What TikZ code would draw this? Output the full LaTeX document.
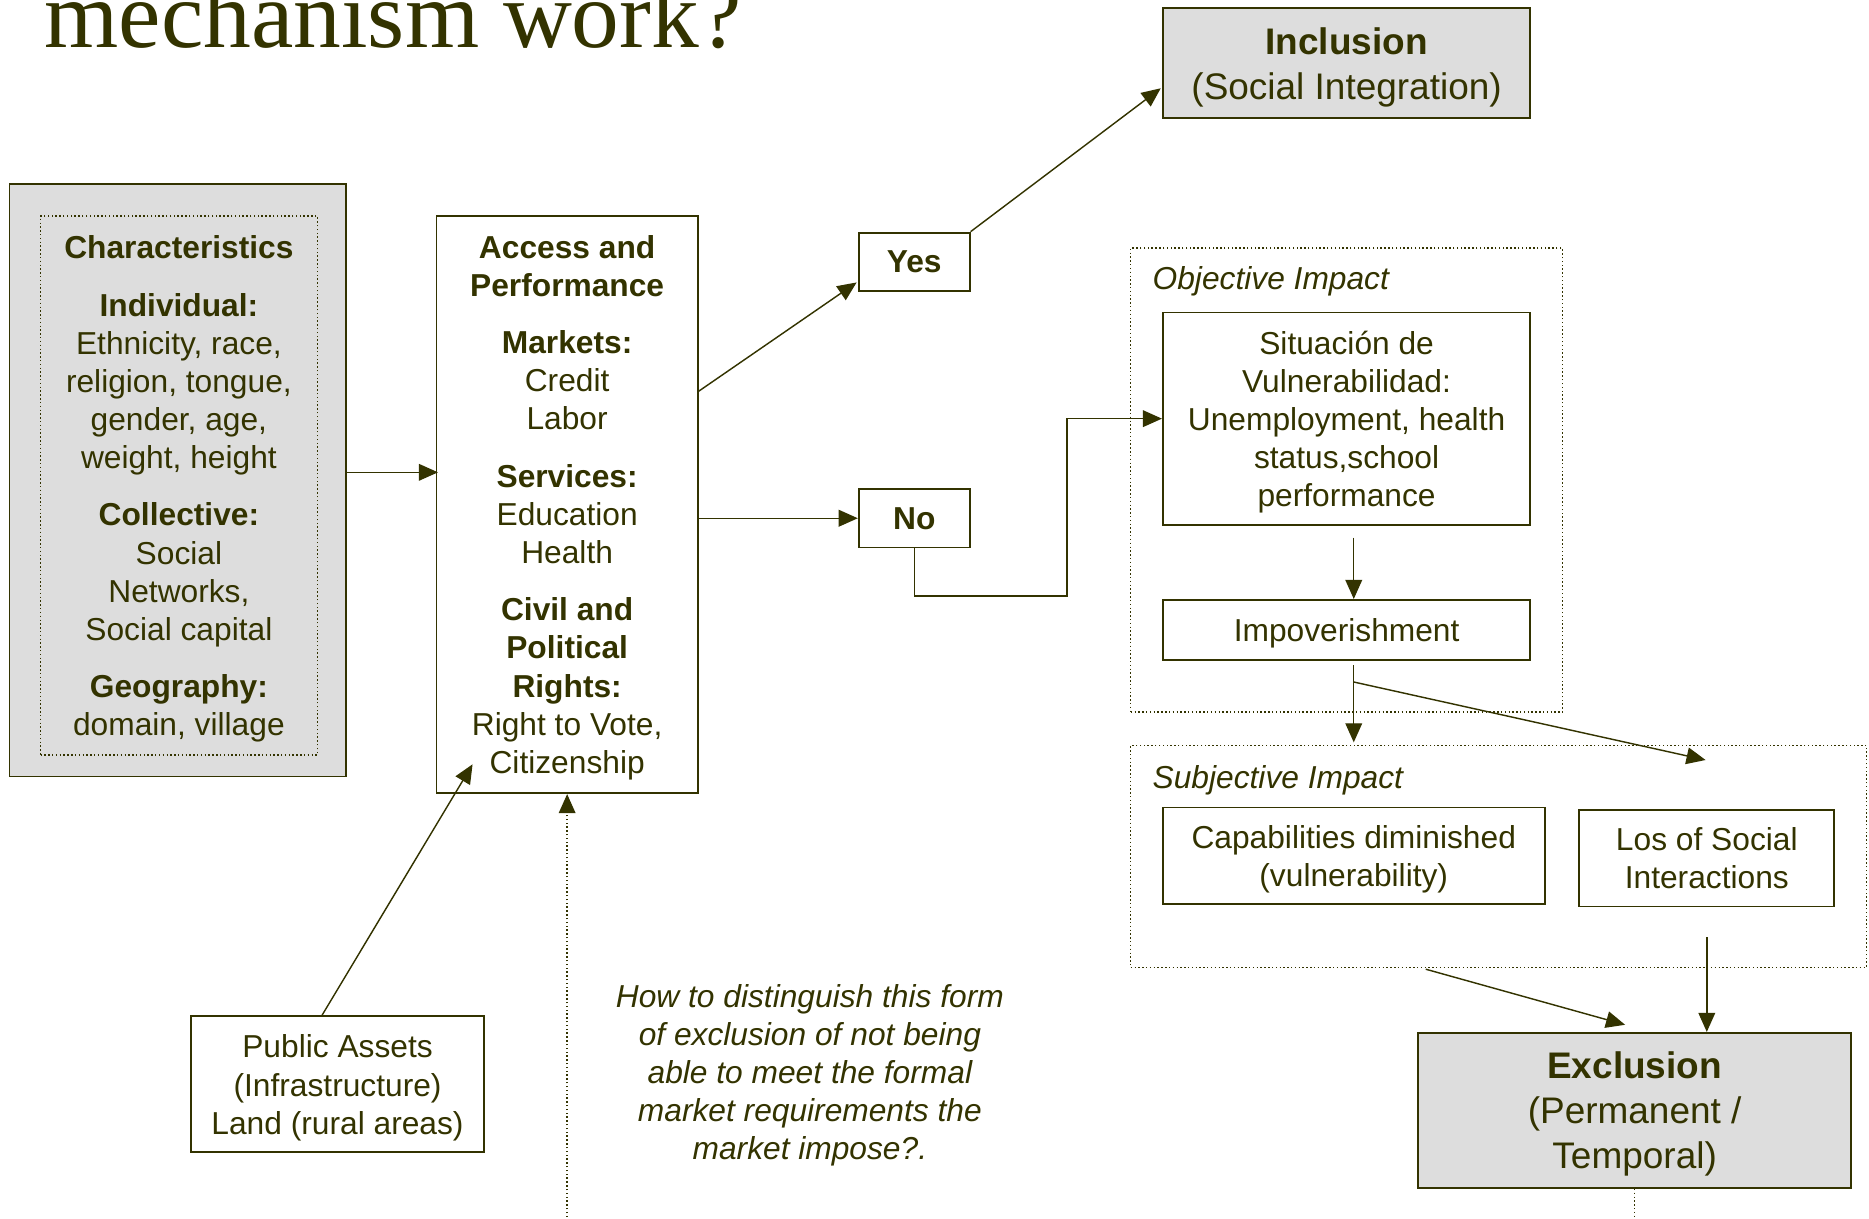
\documentclass[tikz,border=0pt]{standalone}
\usepackage{fontspec}
\setmainfont{Liberation Sans}
\newfontfamily\titlefont{Liberation Serif}
\usetikzlibrary{arrows.meta,calc}
\definecolor{ink}{HTML}{333300}
\definecolor{boxgray}{HTML}{DDDDDD}
\newcommand{\headroom}[1]{\rule{0pt}{#1}}
\tikzset{
  txt/.style={font=\fontsize{13.3}{16}\selectfont},
  big/.style={font=\fontsize{15.5}{19}\selectfont},
  note/.style={font=\fontsize{13.3}{16}\selectfont\itshape},
  box/.style={draw=ink, line width=0.8pt, text=ink, align=center, inner sep=0pt},
  graybox/.style={box, fill=boxgray},
  dotbox/.style={draw=ink, line width=0.6pt, densely dotted, text=ink, align=center, inner sep=0pt},
  arr/.style={draw=ink, line width=0.6pt, -{Triangle[length=8pt,width=7pt]}}
}
\begin{document}
\begin{tikzpicture}[x=0.5pt,y=-0.5pt, every node/.style={txt, text=ink}]
    \useasboundingbox (0,0) rectangle (1567,1021.2);
    \coordinate (bottom) at (0,1030);

    % Title
    \node[anchor=base west, inner sep=0pt, font=\titlefont\fontsize{40}{40}\selectfont] (title) at (37,40) {mechanism work?};

    % Left column
    \node[graybox, minimum width=141pt, minimum height=248.5pt] (charbox) at (149,402.5) {};
    \node[dotbox, minimum width=116pt, minimum height=226pt] (chars) at (150,407) {\headroom{12.7pt}{\bfseries Characteristics}\\[8pt]
        {\bfseries Individual:}\\Ethnicity, race,\\religion, tongue,\\gender, age,\\weight, height\\[8pt]
        {\bfseries Collective:}\\Social\\Networks,\\Social capital\\[8pt]
        {\bfseries Geography:}\\domain, village};
    \node[box, minimum width=123pt, minimum height=57pt] (assets) at (283,909) {\headroom{12.7pt}Public Assets\\(Infrastructure)\\Land (rural areas)};

    % Middle column
    \node[box, minimum width=109.5pt, minimum height=242pt] (access) at (475.5,423) {\headroom{12.2pt}{\bfseries Access and}\\{\bfseries Performance}\\[8pt]
        {\bfseries Markets:}\\Credit\\Labor\\[8pt]
        {\bfseries Services:}\\Education\\Health\\[8pt]
        {\bfseries Civil and}\\{\bfseries Political}\\{\bfseries Rights:}\\Right to Vote,\\Citizenship};
    \node[box, minimum width=46.5pt, minimum height=24.5pt] (yes) at (766.5,219.5) {\bfseries Yes};
    \node[box, minimum width=46.5pt, minimum height=24.5pt] (no) at (766.5,434.5) {\bfseries No};
    \node[note, align=center] (question) at (679,899) {\headroom{12.2pt}How to distinguish this form\\of exclusion of not being\\able to meet the formal\\market requirements the\\market impose?.};

    % Right column
    \node[graybox, big, minimum width=154pt, minimum height=46pt] (incl) at (1129,53) {\headroom{15pt}{\bfseries Inclusion}\\(Social Integration)};
    \node[dotbox, minimum width=181pt, minimum height=194.5pt] (objective) at (1129,402.5) {};
    \node[note, anchor=west, inner sep=0pt] (objlabel) at (966,236) {Objective Impact};
    \node[box, minimum width=154pt, minimum height=89pt] (situation) at (1129,351) {\headroom{12.7pt}Situación de\\Vulnerabilidad:\\Unemployment, health\\status,school\\performance};
    \node[box, minimum width=154pt, minimum height=25pt] (impov) at (1129,528) {\headroom{12.2pt}Impoverishment};
    \node[dotbox, minimum width=308.5pt, minimum height=93pt] (subjective) at (1256.5,718) {};
    \node[note, anchor=west, inner sep=0pt] (subjlabel) at (966,654) {Subjective Impact};
    \node[box, minimum width=160pt, minimum height=40.5pt] (capab) at (1135,717.5) {\headroom{12.7pt}Capabilities diminished\\(vulnerability)};
    \node[box, minimum width=107pt, minimum height=40.5pt] (losbox) at (1431,719.5) {Los of Social\\Interactions};
    \node[graybox, big, minimum width=181.5pt, minimum height=65pt] (excl) at (1370.5,931) {\headroom{14.3pt}{\bfseries Exclusion}\\(Permanent /\\Temporal)};

    % Arrows
    \draw[arr] ($(charbox.east)+(0,-6.5)$) -- ($(charbox.east -| access.west)+(2,-6.5)$);
    \draw[arr] ($(access.east)+(0,-95)$) -- ($(yes.south west)+(-1,-8)$);
    \draw[arr] (yes.north east) -- ($(incl.west)+(-1,21)$);
    \draw[arr] (access.east |- no.west) -- (no.west);
    \draw[arr] (no.south) -- ++(0,40) -- ++(128,0) |- (situation.west);
    \draw[arr] ($(situation.south)+(6,10)$) -- ($(impov.north)+(6,0)$);
    \draw[arr] ($(impov.south)+(6,4)$) -- ($(impov.south |- subjective.north)+(6,-2)$);
    \draw[arr] ($(impov.south)+(6,18)$) -- ($(losbox.north)+(-1,-41)$);
    \draw[arr] ($(losbox.south)+(0,25)$) -- (losbox.south |- excl.north);
    \draw[arr] ($(subjective.south west)+(248,1)$) -- ($(excl.north)+(-8,-6)$);
    \draw[arr] ($(assets.north)+(-13,0)$) -- ($(access.south west)+(31,-25)$);
    \draw[arr, densely dotted] (access.south |- bottom) -- (access.south);
    \draw[ink, line width=0.6pt, densely dotted] (excl.south) -- (excl.south |- bottom);
\end{tikzpicture}
\end{document}
